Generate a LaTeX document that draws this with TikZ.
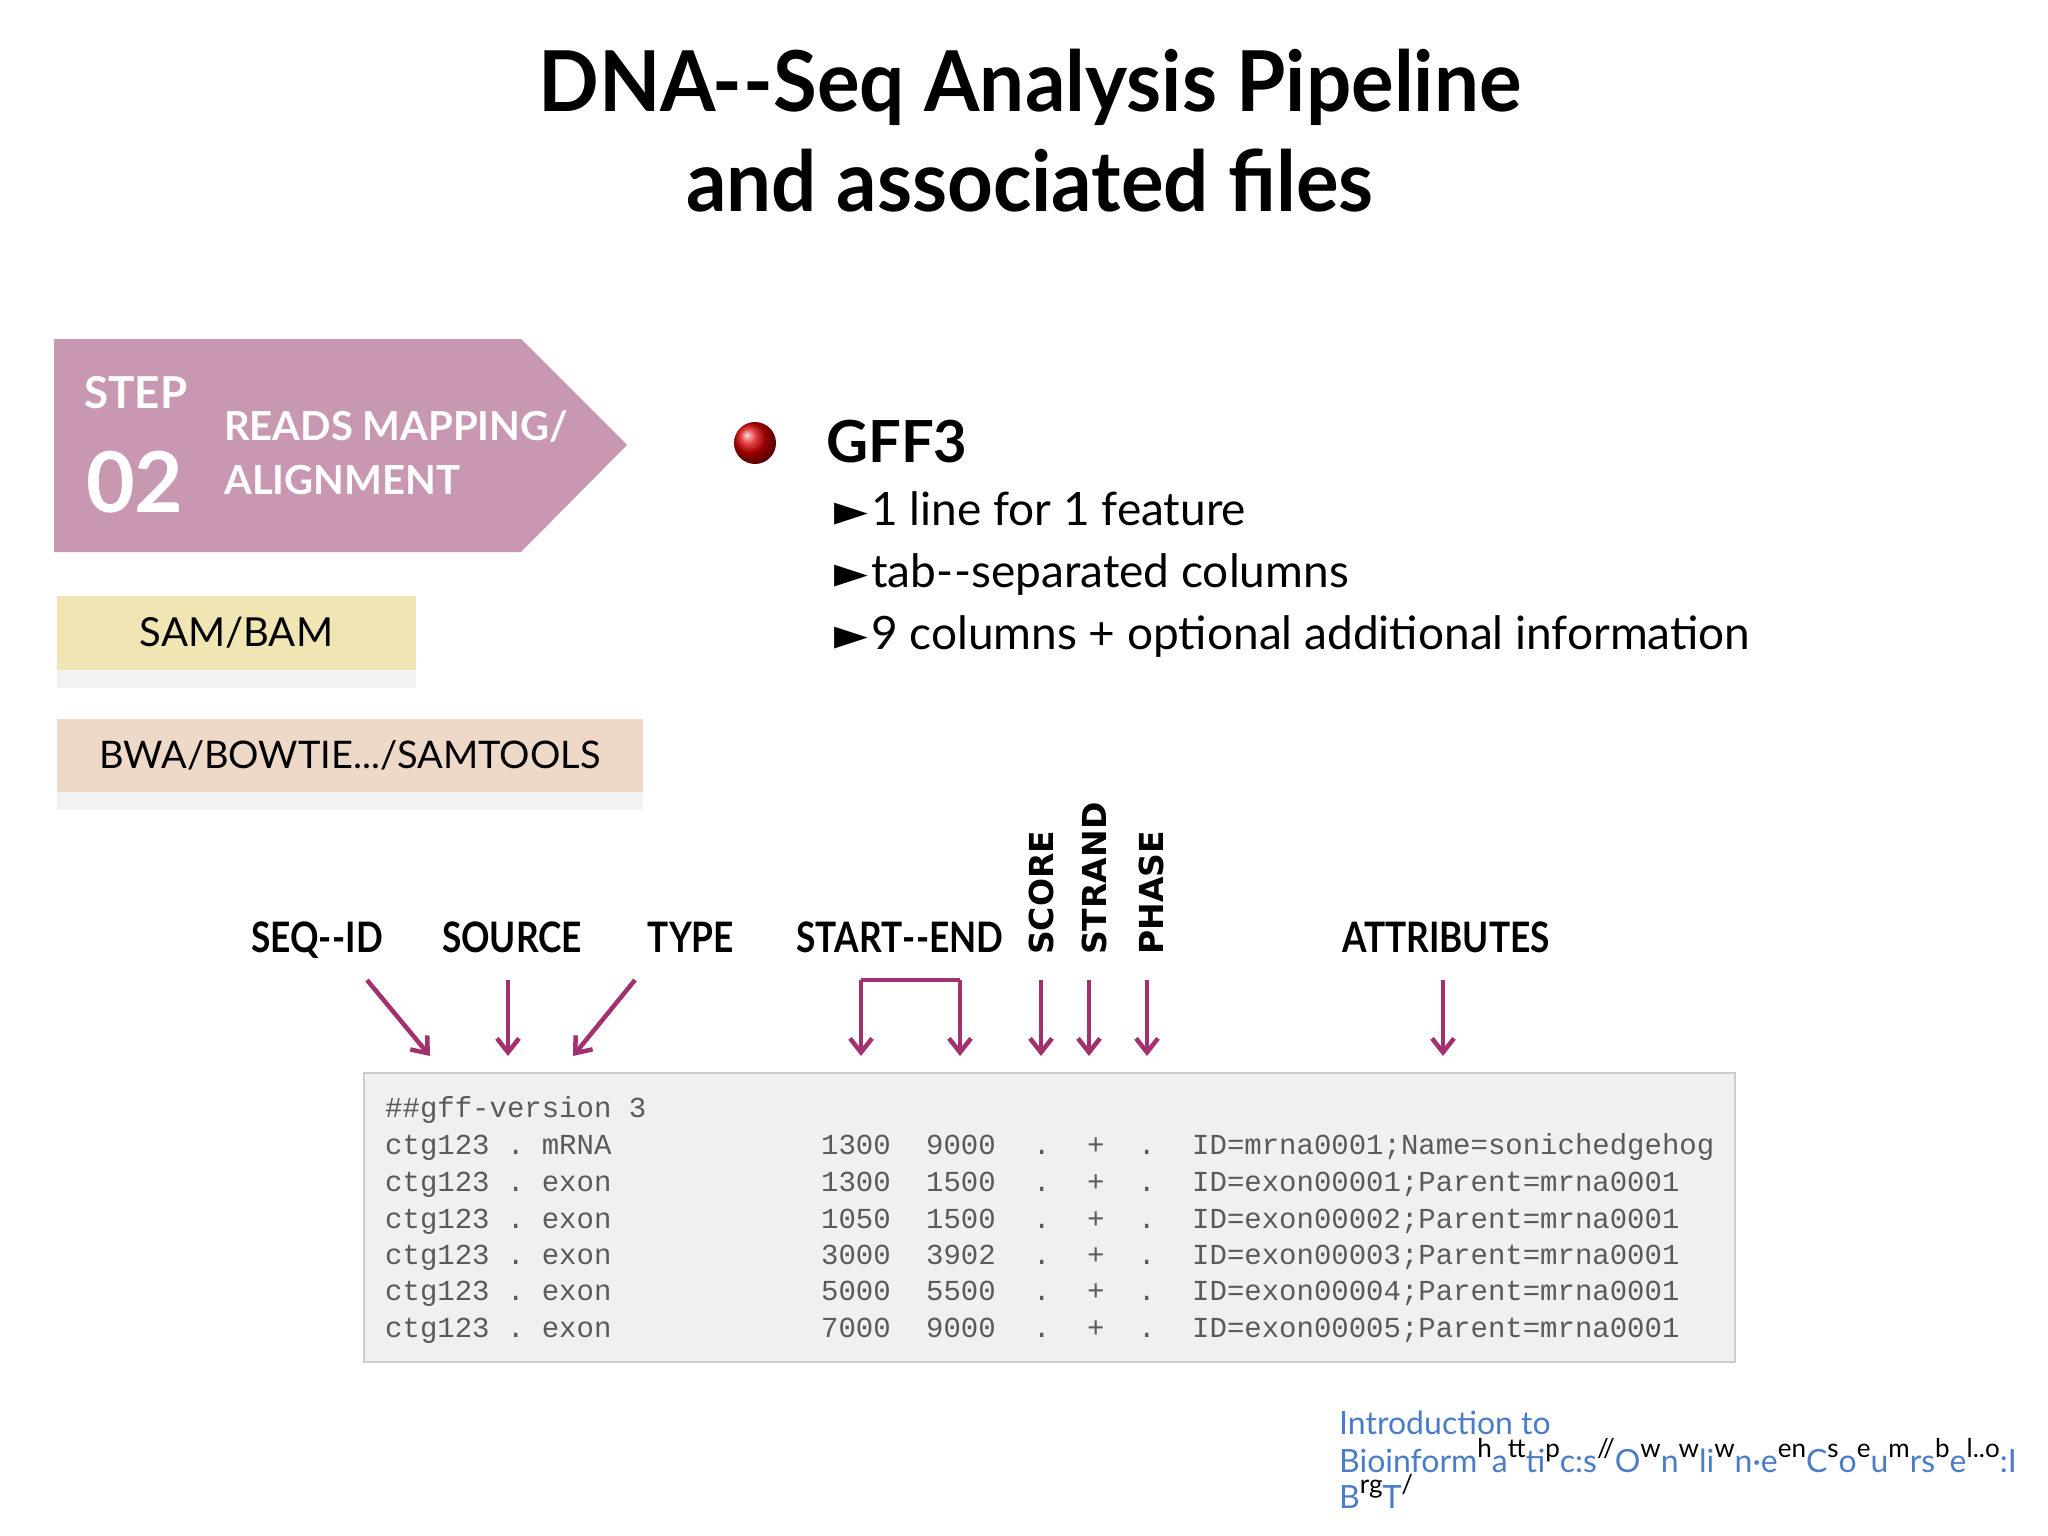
\documentclass[tikz,border=0pt]{standalone}
\usepackage{fontspec}
\setmainfont{Lato}
\newfontfamily\dvs{DejaVu Sans}
\setmonofont{Liberation Mono}
\usetikzlibrary{arrows.meta}
\definecolor{stepc}{HTML}{C897B1}
\definecolor{samc}{HTML}{F0E6B4}
\definecolor{bwac}{HTML}{EED8C8}
\definecolor{arr}{HTML}{A3306F}
\definecolor{codebg}{HTML}{F0F0F0}
\definecolor{codetx}{HTML}{5A5A5A}
\definecolor{footc}{HTML}{4A7CC8}
\newcommand{\fsz}[1]{\fontsize{#1}{#1}\selectfont}
\newcommand{\supx}[1]{\raisebox{0.45em}{\color{black}\fsz{26}#1}}
\newcommand{\dd}{\mbox{-}\kern0.02em\mbox{-}}
\begin{document}
\begin{tikzpicture}[x=1pt,y=-1pt,
  lab/.style={font=\bfseries\fsz{42},anchor=base,inner sep=0,xscale=0.84},
  rlab/.style={font=\dvs\bfseries\fsz{33},rotate=90,anchor=south west,inner sep=0},
  pa/.style={draw=arr,line width=4.5pt,-{Straight Barb[length=14pt,width=22pt]}},
  code/.style={font=\ttfamily\fsz{29},text=codetx,anchor=base west,inner sep=0},
  coder/.style={font=\ttfamily\fsz{29},text=codetx,anchor=base east,inner sep=0},
  bul/.style={font=\fsz{46},anchor=base west,inner sep=0}]
\useasboundingbox (0,0) rectangle (2048,1536);
% title
\node[font=\bfseries\fsz{84},align=center,xscale=0.95] (title) at (1030,131) {DNA\kern-0.05em\dd Seq Analysis Pipeline\\[16pt]and associated files};
% step box
\fill[stepc] (54,339) -- (521,339) -- (627,445) -- (521,552) -- (54,552) -- cycle;
\node[font=\bfseries\fsz{44},text=white,anchor=base west,inner sep=0] (step) at (84,408) {STEP};
\node[font=\bfseries\fsz{84},text=white,anchor=base west,inner sep=0] (n02) at (86,512) {02};
\node[font=\bfseries\fsz{40},text=white,anchor=base west,inner sep=0] (rm) at (224,440) {READS MAPPING/};
\node[font=\bfseries\fsz{40},text=white,anchor=base west,inner sep=0] (al) at (224,494) {ALIGNMENT};
% sam box
\fill[gray!10] (57,670) rectangle (416,688);
\fill[samc] (57,596) rectangle (416,670) node[midway,font=\fsz{40},text=black] (sam) {SAM/BAM};
\fill[gray!10] (57,792) rectangle (643,810);
\fill[bwac] (57,719) rectangle (643,792) node[midway,font=\fsz{38},text=black] (bwa) {BWA/BOWTIE.../SAMTOOLS};
% GFF3
\shade[ball color=red!85!black] (755,443) circle (21);
\node[font=\bfseries\fsz{58},anchor=base west,inner sep=0] (gff) at (826,462) {GFF3};
\node[bul] (b1) at (834,525) {{\dvs\fsz{44}►}\kern3pt 1 line for 1 feature};
\node[bul] (b2) at (834,587) {{\dvs\fsz{44}►}\kern3pt tab\dd separated columns};
\node[bul] (b3) at (834,649) {{\dvs\fsz{44}►}\kern3pt 9 columns + optional additional information};
% column labels
\node[lab] (seq) at (317,952) {SEQ\dd ID};
\node[lab] (src) at (512,952) {SOURCE};
\node[lab] (typ) at (691,952) {TYPE};
\node[lab] (se) at (900,952) {START\dd END};
\node[lab] (att) at (1446,952) {ATTRIBUTES};
\node[rlab] (sco) at (1054,955) {SCORE};
\node[rlab] (str) at (1107,955) {STRAND};
\node[rlab] (pha) at (1164,955) {PHASE};
% arrows
\coordinate (a1s) at (367,980); \coordinate (a1e) at (430,1056);
\coordinate (a2s) at (508,980); \coordinate (a2e) at (508,1056);
\coordinate (a3s) at (635,980); \coordinate (a3e) at (573,1056);
\draw[pa] (a1s) -- (a1e);
\draw[pa] (a2s) -- (a2e);
\draw[pa] (a3s) -- (a3e);
\coordinate (bl) at (861,980); \coordinate (br) at (960,980);
\coordinate (ble) at (861,1056); \coordinate (bre) at (960,1056);
\draw[draw=arr,line width=4.5pt] (bl) -- (br);
\draw[pa] (bl) -- (ble);
\draw[pa] (br) -- (bre);
\foreach \x/\n in {1041/sc,1089/st,1147/ph,1443/at}{
  \coordinate (\n s) at (\x,980); \coordinate (\n e) at (\x,1056);
  \draw[pa] (\n s) -- (\n e);}
% code box
\draw[draw=gray!40,line width=2pt,fill=codebg] (364,1073) rectangle (1735,1362);
\node[code] (h) at (385,1117) {\#\#gff-version 3};
\foreach \y/\t/\s/\e/\a [count=\i] in {
 1154/mRNA/1300/9000/ID=mrna0001;Name=sonichedgehog,
 1191/exon/1300/1500/ID=exon00001;Parent=mrna0001,
 1228/exon/1050/1500/ID=exon00002;Parent=mrna0001,
 1264/exon/3000/3902/ID=exon00003;Parent=mrna0001,
 1300/exon/5000/5500/ID=exon00004;Parent=mrna0001,
 1337/exon/7000/9000/ID=exon00005;Parent=mrna0001}{
  \node[code] (c\i) at (385,\y) {ctg123 .\ \t};
  \node[coder] (s\i) at (891,\y) {\s};
  \node[coder] (e\i) at (996,\y) {\e};
  \node[code] (d\i) at (1033,\y) {.};
  \node[code] (p\i) at (1087,\y) {+};
  \node[code] (q\i) at (1138,\y) {.};
  \node[code] (r\i) at (1192,\y) {\a};
}
% footer
\node[font=\fsz{32},text=footc,anchor=base west,inner sep=0] (f1) at (1339,1434) {Introduction to};
\node[font=\fsz{32},text=footc,anchor=base west,inner sep=0] (f2) at (1339,1472) {Bioinform\supx{h}a\supx{tt}ti\supx{p}c:s\supx{//}O\supx{w}n\supx{w}li\supx{w}n·e\supx{en}C\supx{s}o\supx{e}u\supx{m}rs\supx{b}e\supx{l..o}:I};
\node[font=\fsz{32},text=footc,anchor=base west,inner sep=0] (f3) at (1339,1508) {B\supx{rg}T\supx{/}};
\end{tikzpicture}
\end{document}
